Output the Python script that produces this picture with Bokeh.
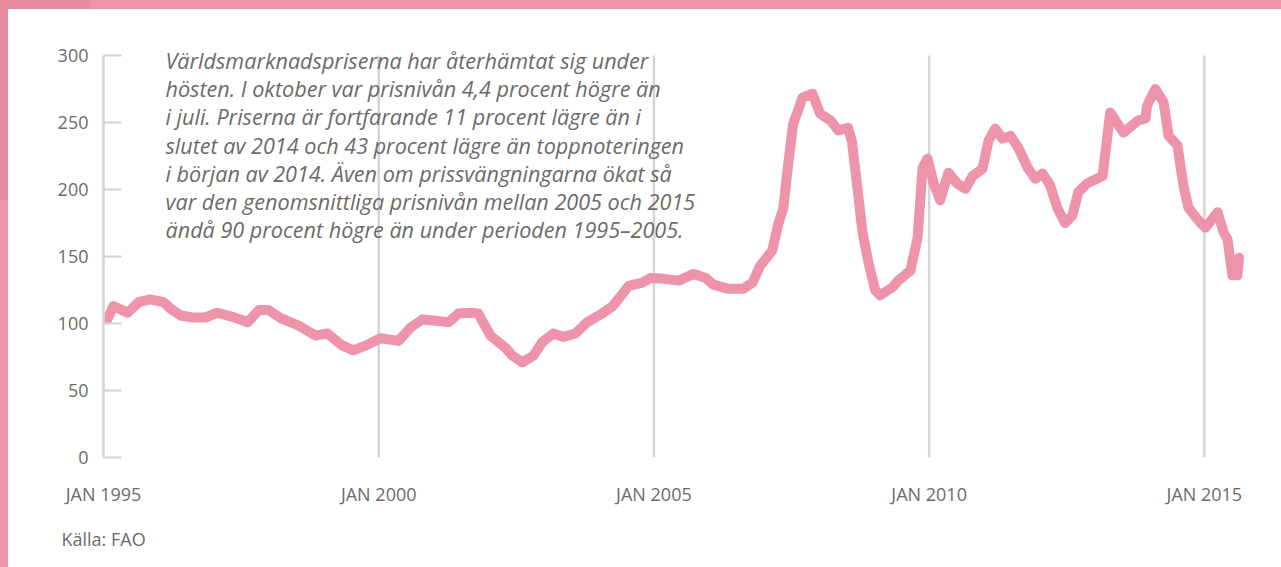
from bokeh.plotting import figure
from bokeh.models import Range1d, FixedTicker, Title, GlobalInlineStyleSheet
from bokeh.core.properties import value
from bokeh.embed import file_html
from bokeh.resources import INLINE

# ---- data (FAO price index) ----
dates = [1995.07, 1995.18, 1995.44, 1995.64, 1995.85, 1996.09, 1996.22, 1996.40, 1996.63, 1996.85,
         1997.07, 1997.34, 1997.62, 1997.82, 1998.00, 1998.22, 1998.54, 1998.85, 1999.07, 1999.34,
         1999.54, 1999.76, 2000.03, 2000.36, 2000.58, 2000.79, 2001.03, 2001.27, 2001.45, 2001.67,
         2001.81, 2001.88, 2002.03, 2002.30, 2002.43, 2002.61, 2002.81, 2002.97, 2003.17, 2003.36,
         2003.57, 2003.79, 2004.06, 2004.25, 2004.36, 2004.54, 2004.79, 2004.94, 2005.15, 2005.45,
         2005.72, 2005.94, 2006.08, 2006.34, 2006.63, 2006.79, 2006.93, 2007.15, 2007.26, 2007.35,
         2007.44, 2007.53, 2007.70, 2007.88, 2008.02, 2008.21, 2008.35, 2008.53, 2008.60, 2008.70,
         2008.79, 2008.90, 2009.02, 2009.11, 2009.33, 2009.44, 2009.66, 2009.79, 2009.88, 2009.97,
         2010.08, 2010.20, 2010.35, 2010.51, 2010.66, 2010.79, 2010.97, 2011.08, 2011.20, 2011.33,
         2011.48, 2011.62, 2011.80, 2011.93, 2012.06, 2012.20, 2012.33, 2012.47, 2012.60, 2012.71,
         2012.87, 2013.15, 2013.29, 2013.53, 2013.80, 2013.93, 2013.96, 2014.11, 2014.26, 2014.35,
         2014.51, 2014.62, 2014.71, 2014.87, 2015.02, 2015.24, 2015.35, 2015.42, 2015.51, 2015.60,
         2015.63]

index_values = [103, 113, 108, 116, 118, 116, 111, 106, 104.5, 104.5,
                108, 105, 101, 110, 110, 104, 98.5, 91, 92.5, 83.5,
                80, 83.5, 89, 87, 97, 103, 102, 101, 107.5, 108,
                107.5, 102, 91, 82, 76, 71, 76, 86, 92.5, 90,
                92.5, 101, 107.5, 113, 118.5, 128, 130.5, 134, 133.5, 132,
                137, 134, 129, 126, 126, 130.5, 143, 154.5, 174.5, 186,
                219, 249, 268.5, 271.5, 256.5, 251.5, 244, 246, 235, 200,
                168, 145, 125, 121, 127, 132, 139.5, 164, 216, 223,
                205, 192, 212.5, 204.5, 200.5, 210, 215.5, 236.5, 245.5, 238,
                240, 231, 215.5, 208, 212, 203, 186, 175, 180.5, 198,
                204.5, 210, 257.5, 242.5, 251.5, 253, 262.5, 275, 265, 240,
                233, 203, 186.5, 178, 171.5, 183, 168, 163, 136, 136,
                149]

y_ticks = [0, 50, 100, 150, 200, 250, 300]
x_ticks = [1995, 2000, 2005, 2010, 2015]
x_tick_labels = ["JAN 1995", "JAN 2000", "JAN 2005", "JAN 2010", "JAN 2015"]
grid_years = [2000, 2005, 2010, 2015]

note_lines = [
    "Världsmarknadspriserna har återhämtat sig under",
    "hösten. I oktober var prisnivån 4,4 procent högre än",
    "i juli. Priserna är fortfarande 11 procent lägre än i",
    "slutet av 2014 och 43 procent lägre än toppnoteringen",
    "i början av 2014. Även om prissvängningarna ökat så",
    "var den genomsnittliga prisnivån mellan 2005 och 2015",
    "ändå 90 procent högre än under perioden 1995–2005.",
]
source_text = "Källa: FAO"

# ---- style ----
PINK = "#EE94AA"
FRAME_PINK = "#EE93A9"
FRAME_DARK = "#E68BA1"
TEXT = "#6b6b6b"
GRID = "#d4d4d4"
FONT = "Open Sans"

# page-pixel layout of the plotting area (canvas starts at the page corner)
W, H = 1281, 567
FRAME_L, FRAME_R, FRAME_T, FRAME_B = 103, 1260, 30, 457
AXIS_TOP_PX = 55           # where the value 300 sits

X0, X1 = 1995.0, 2016.02
Y0 = 0
Y1 = 300 + (AXIS_TOP_PX - FRAME_T) * 300 / (FRAME_B - AXIS_TOP_PX)

p = figure(width=W, height=H, output_backend="svg", toolbar_location=None,
           x_range=Range1d(X0, X1), y_range=Range1d(Y0, Y1),
           min_border_left=FRAME_L, min_border_right=W - FRAME_R,
           min_border_top=FRAME_T, min_border_bottom=H - FRAME_B,
           background_fill_color="white")
p.border_fill_alpha = 0
p.outline_line_color = None

# page frame: pink bands along the top and left edges
css = ("html { background:"
       " linear-gradient(180deg, %(d)s 0px, %(d)s 200px, rgba(255,255,255,0) 200px) 0 0 / 8px 100%% no-repeat,"
       " linear-gradient(90deg, %(d)s 0px, %(d)s 88px, rgba(255,255,255,0) 92px) 0 0 / 100%% 9px no-repeat,"
       " linear-gradient(90deg, %(p)s 8px, rgba(255,255,255,0) 8px) no-repeat,"
       " linear-gradient(180deg, %(p)s 9px, #ffffff 9px) no-repeat;"
       " background-color: #ffffff; }") % {"d": FRAME_DARK, "p": FRAME_PINK}
p.stylesheets = [GlobalInlineStyleSheet(css=css)]

# axes
xa = p.xaxis[0]
xa.ticker = FixedTicker(ticks=x_ticks)
xa.major_label_overrides = {t: l for t, l in zip(x_ticks, x_tick_labels)}
xa.axis_line_color = None
xa.major_tick_line_color = None
xa.minor_tick_line_color = None
xa.major_tick_out = 0
xa.major_label_standoff = 24
xa.major_label_text_font = FONT
xa.major_label_text_font_size = "18px"
xa.major_label_text_color = TEXT

ya = p.yaxis[0]
ya.ticker = FixedTicker(ticks=y_ticks)
ya.bounds = (y_ticks[0], y_ticks[-1])
ya.axis_line_color = GRID
ya.axis_line_width = 2.5
ya.major_tick_line_color = GRID
ya.major_tick_line_width = 2
ya.major_tick_in = 18
ya.major_tick_out = 0
ya.minor_tick_line_color = None
ya.major_label_standoff = 15
ya.major_label_text_font = FONT
ya.major_label_text_font_size = "18px"
ya.major_label_text_color = TEXT

p.xgrid.grid_line_color = None
p.ygrid.grid_line_color = None
# vertical year lines spanning the value axis only
p.segment(x0=grid_years, y0=[y_ticks[0]] * len(grid_years), x1=grid_years,
          y1=[y_ticks[-1]] * len(grid_years), line_color=GRID, line_width=2.5)

# series
p.line(dates, index_values, line_width=10, line_color=PINK, line_join="round", line_cap="round")

def px_x(px):
    return X0 + (px - FRAME_L) / (FRAME_R - FRAME_L) * (X1 - X0)
def px_y(py):
    return Y0 + (FRAME_B - py) / (FRAME_B - FRAME_T) * (Y1 - Y0)

note_x = [px_x(165)] * len(note_lines)
note_y = [px_y(60 + i * 28.2) for i in range(len(note_lines))]
p.text(x=note_x, y=note_y, text=note_lines, text_font=value(FONT), text_font_style="italic",
       text_font_size="21.6px", text_color=TEXT, text_baseline="middle", text_align="left")

# source note below the x axis
p.add_layout(Title(text=source_text, align="left", offset=61 - FRAME_L, standoff=33,
                   text_font=FONT, text_font_size="18px", text_font_style="normal",
                   text_color=TEXT), "below")

open("out.html", "w").write(file_html(p, INLINE))
